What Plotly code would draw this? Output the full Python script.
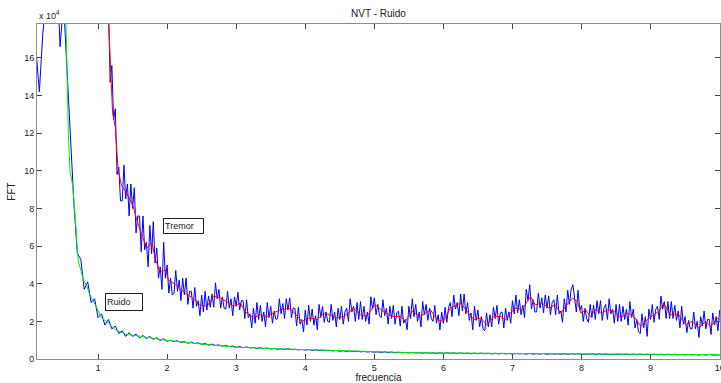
import plotly.graph_objects as go

# ---------------- data (FFT amplitude in units of 1e4) ----------------
TREMOR_F0, TREMOR_STEP = 1.10, 0.025
RUIDO_F0, RUIDO_STEP = 0.10, 0.05

tremor_fft = [
    24.3, 20.3, 19.0, 14.7, 15.6, 12.7, 13.3, 9.8, 10.2, 8.4,
    8.4, 10.3, 8.5, 9.3, 7.6, 9.3, 8.0, 9.1, 6.7, 7.6,
    7.6, 5.7, 7.6, 5.8, 6.2, 4.9, 7.1, 5.6, 7.3, 5.1,
    5.9, 4.3, 4.9, 3.7, 6.2, 4.3, 5.0, 3.5, 4.3, 3.4,
    3.5, 4.7, 3.6, 4.2, 3.1, 4.3, 3.4, 4.3, 2.9, 3.6,
    3.6, 2.7, 3.8, 2.8, 3.1, 2.3, 3.4, 2.5, 3.6, 2.6,
    3.35, 2.75, 3.45, 2.75, 4.05, 3.2, 3.7, 2.7, 3.3, 2.7,
    2.65, 3.6, 2.7, 3.2, 2.3, 3.3, 2.8, 3.55, 2.6, 3.1,
    3.1, 2.15, 3.15, 2.2, 2.4, 1.65, 2.7, 1.9, 3.0, 2.1,
    2.85, 2.0, 2.5, 1.7, 3.0, 2.2, 2.8, 1.9, 2.55, 2.1,
    2.15, 3.2, 2.4, 2.95, 2.15, 3.2, 2.6, 3.25, 2.2, 2.7,
    2.7, 1.75, 2.75, 1.85, 2.1, 1.45, 2.6, 1.8, 2.85, 2.0,
    2.65, 1.8, 2.3, 1.55, 2.9, 2.2, 2.8, 1.95, 2.5, 2.0,
    1.95, 2.9, 2.05, 2.5, 1.7, 2.7, 2.1, 2.8, 1.85, 2.5,
    2.7, 2.0, 3.2, 2.5, 2.8, 2.0, 3.0, 2.1, 3.05, 2.1,
    2.8, 2.0, 2.5, 1.85, 3.3, 2.65, 3.25, 2.35, 2.9, 2.3,
    2.2, 3.15, 2.3, 2.7, 1.85, 2.8, 2.15, 2.85, 1.85, 2.45,
    2.55, 1.75, 2.8, 1.9, 2.1, 1.55, 2.8, 2.15, 3.2, 2.25,
    2.9, 2.0, 2.5, 1.7, 3.05, 2.35, 2.9, 2.05, 2.7, 2.15,
    2.0, 2.85, 1.9, 2.35, 1.55, 2.5, 1.9, 2.75, 1.95, 2.75,
    3.0, 2.25, 3.4, 2.65, 3.0, 2.3, 3.45, 2.55, 3.45, 2.4,
    3.0, 2.05, 2.45, 1.55, 2.8, 2.05, 2.6, 1.7, 2.25, 1.6,
    1.5, 2.45, 1.7, 2.35, 1.7, 2.75, 2.15, 2.85, 1.85, 2.45,
    2.5, 1.65, 2.7, 2.05, 2.5, 1.9, 3.1, 2.4, 3.4, 2.45,
    3.15, 2.35, 2.85, 2.2, 3.7, 3.1, 3.95, 2.65, 3.15, 2.5,
    2.5, 3.5, 2.7, 3.25, 2.45, 3.4, 2.7, 3.35, 2.35, 3.0,
    3.15, 2.35, 3.4, 2.4, 2.55, 1.95, 3.2, 2.5, 3.65, 2.9,
    3.7, 3.95, 3.35, 2.5, 3.65, 2.6, 2.85, 2.0, 2.7, 2.15,
    1.95, 2.9, 2.2, 2.85, 2.1, 3.1, 2.4, 3.1, 2.05, 2.7,
    2.9, 2.1, 3.2, 2.4, 2.65, 1.9, 2.9, 2.0, 2.9, 2.0,
    2.8, 2.1, 2.65, 1.8, 3.05, 2.2, 2.65, 1.65, 2.1, 1.45,
    1.35, 2.4, 1.65, 2.25, 1.2, 2.65, 2.1, 2.9, 1.95, 2.65,
    2.8, 2.1, 3.35, 2.65, 3.05, 2.15, 3.05, 2.15, 3.05, 2.15,
    2.85, 2.05, 2.55, 1.65, 2.8, 1.85, 2.25, 1.4, 2.05, 1.6,
    1.6, 2.5, 1.6, 2.0, 1.15, 2.25, 1.75, 2.55, 1.6, 2.1,
    2.1, 1.3, 2.45, 1.8, 2.25, 1.5, 2.6,
]

tremor_smooth_f = [
    1.08, 1.15, 1.17, 1.19, 1.21, 1.25, 1.27, 1.29, 1.34, 1.40,
    1.46, 1.51, 1.56, 1.64, 1.71, 1.78, 1.83, 1.90, 1.97, 2.02,
    2.12, 2.23, 2.36, 2.48, 2.58, 2.67, 2.77, 2.87, 2.96, 3.06,
    3.13, 3.25, 3.35, 3.44, 3.54, 3.64, 3.78, 3.88, 3.95, 4.07,
    4.17, 4.27, 4.36, 4.46, 4.56, 4.70, 4.80, 4.89, 5.01, 5.13,
    5.26, 5.38, 5.45, 5.55, 5.67, 5.81, 5.91, 6.00, 6.10, 6.25,
    6.34, 6.44, 6.54, 6.63, 6.73, 6.83, 6.90, 6.97, 7.04, 7.14,
    7.26, 7.33, 7.43, 7.53, 7.62, 7.70, 7.77, 7.87, 7.94, 7.99,
    8.06, 8.13, 8.20, 8.30, 8.37, 8.47, 8.57, 8.66, 8.76, 8.86,
    8.95, 9.05, 9.12, 9.19, 9.29, 9.41, 9.51, 9.60, 9.70, 9.80,
    9.87, 9.97, 10.0,
]
tremor_smooth = [
    24.0, 18.5, 16.6, 14.5, 13.1, 12.3, 11.3, 10.1, 9.2, 8.9,
    8.5, 8.1, 7.4, 6.5, 5.9, 6.2, 5.3, 4.6, 4.75, 4.2,
    3.95, 3.6, 3.26, 2.88, 2.8, 3.33, 3.26, 3.0, 2.8, 2.97,
    2.53, 2.18, 2.35, 2.26, 2.44, 2.62, 2.7, 2.26, 2.0, 2.18,
    2.09, 2.44, 2.35, 2.18, 2.26, 2.7, 2.35, 2.26, 2.88, 2.53,
    2.26, 2.26, 2.0, 2.53, 2.26, 2.62, 2.09, 2.0, 2.7, 2.97,
    2.53, 2.09, 2.18, 1.82, 2.26, 2.26, 2.09, 2.44, 2.7, 2.62,
    3.33, 2.88, 2.97, 2.7, 2.88, 2.44, 2.8, 3.24, 3.06, 2.44,
    2.62, 2.26, 2.62, 2.44, 2.62, 2.53, 2.18, 2.44, 2.26, 1.73,
    2.09, 2.35, 2.53, 2.97, 2.35, 2.35, 1.82, 2.0, 1.65, 2.0,
    1.73, 2.18, 2.1,
]

ruido_fft = [
    16.5, 14.2, 17.3, 19.5, 21.0, 22.0, 21.0, 16.6, 19.0, 15.4,
    11.8, 8.3, 5.6, 5.3, 3.7, 4.1, 3.0, 3.2, 2.2, 2.4,
    1.8, 2.1, 1.6, 1.75, 1.35, 1.5, 1.2, 1.4, 1.2, 1.32,
    1.12, 1.25, 1.08, 1.2, 1.04, 1.13, 0.98, 1.08, 0.94, 1.0,
    0.92, 0.97, 0.88, 0.93, 0.84, 0.9, 0.82, 0.86, 0.78, 0.82,
    0.74, 0.79, 0.72, 0.75, 0.68, 0.72, 0.66, 0.69, 0.62, 0.66,
    0.6, 0.64, 0.59, 0.61, 0.56, 0.6, 0.55, 0.58, 0.53, 0.56,
    0.52, 0.55, 0.51, 0.54, 0.5, 0.52, 0.48, 0.51, 0.47, 0.5,
    0.46, 0.49, 0.45, 0.48, 0.44, 0.46, 0.43, 0.45, 0.41, 0.44,
    0.4, 0.43, 0.39, 0.42, 0.38, 0.4, 0.37, 0.39, 0.36, 0.38,
    0.35, 0.38, 0.34, 0.37, 0.33, 0.36, 0.33, 0.35, 0.32, 0.35,
    0.32, 0.34, 0.31, 0.34, 0.31, 0.33, 0.3, 0.33, 0.3, 0.33,
    0.3, 0.32, 0.29, 0.32, 0.29, 0.31, 0.28, 0.31, 0.28, 0.31,
    0.28, 0.3, 0.27, 0.3, 0.27, 0.3, 0.27, 0.29, 0.26, 0.29,
    0.27, 0.29, 0.26, 0.29, 0.26, 0.28, 0.26, 0.29, 0.25, 0.28,
    0.26, 0.28, 0.25, 0.28, 0.25, 0.28, 0.25, 0.28, 0.25, 0.27,
    0.25, 0.27, 0.24, 0.27, 0.24, 0.27, 0.24, 0.26, 0.24, 0.26,
    0.24, 0.26, 0.23, 0.26, 0.23, 0.26, 0.23, 0.25, 0.23, 0.25,
    0.23, 0.25, 0.22, 0.25, 0.22, 0.25, 0.22, 0.24, 0.22, 0.24,
    0.22, 0.24, 0.21, 0.24, 0.21, 0.24, 0.21, 0.23, 0.22,
]

ruido_smooth_f = [
    0.10, 0.30, 0.50, 0.536, 0.57, 0.594, 0.633, 0.667, 0.68, 0.69,
    0.715, 0.74, 0.79, 0.84, 0.88, 0.96, 1.0, 1.05, 1.15, 1.25,
    1.42, 1.51, 1.75, 2.0, 2.48, 2.96, 3.5, 4.0, 4.5, 5.0,
    5.5, 6.0, 7.0, 8.0, 9.0, 10.0,
]
ruido_smooth = [
    20.0, 24.0, 20.0, 17.8, 12.0, 10.0, 9.2, 7.9, 7.0, 6.3,
    5.2, 4.85, 4.2, 3.86, 3.41, 2.88, 2.53, 2.18, 1.91, 1.56,
    1.29, 1.27, 1.13, 0.99, 0.80, 0.64, 0.55, 0.49, 0.43, 0.37,
    0.34, 0.32, 0.28, 0.27, 0.25, 0.23,
]

x_ticks = [1, 2, 3, 4, 5, 6, 7, 8, 9, 10]
y_ticks = [0, 2, 4, 6, 8, 10, 12, 14, 16]

tremor_f = [round(TREMOR_F0 + TREMOR_STEP * i, 4) for i in range(len(tremor_fft))]
ruido_f = [round(RUIDO_F0 + RUIDO_STEP * i, 4) for i in range(len(ruido_fft))]

# ---------------- figure ----------------
FONT = "Liberation Sans, Arial, sans-serif"
fig = go.Figure()
fig.add_trace(go.Scatter(x=tremor_f, y=tremor_fft, mode="lines",
                         line=dict(color="#0000ff", width=1)))
fig.add_trace(go.Scatter(x=tremor_smooth_f, y=tremor_smooth, mode="lines",
                         line=dict(color="#ff0000", width=1)))
fig.add_trace(go.Scatter(x=ruido_f, y=ruido_fft, mode="lines",
                         line=dict(color="#0000ff", width=1)))
fig.add_trace(go.Scatter(x=ruido_smooth_f, y=ruido_smooth, mode="lines",
                         line=dict(color="#00ee00", width=1)))

axis_common = dict(showline=True, linecolor="#8c8c8c", linewidth=1, mirror="ticks",
                   ticks="inside", ticklen=5, tickcolor="#444", showgrid=False,
                   zeroline=False, ticklabeloverflow="allow", automargin=False,
                   tickfont=dict(family=FONT, size=9, color="#222"))

fig.update_xaxes(range=[0.116, 10.005], tickvals=x_ticks,
                 title=dict(text="frecuencia", font=dict(family=FONT, size=10, color="#222"),
                            standoff=2),
                 **axis_common)
fig.update_yaxes(range=[0, 17.8], tickvals=y_ticks,
                 title=dict(text="FFT", font=dict(family=FONT, size=10, color="#222"),
                            standoff=6),
                 **axis_common)

fig.update_layout(
    width=721, height=383,
    margin=dict(l=37, r=1, t=24, b=24),
    paper_bgcolor="white", plot_bgcolor="white",
    showlegend=False,
    title=dict(text="NVT - Ruido", x=0.525, xanchor="center", y=0.975, yanchor="top",
               font=dict(family=FONT, size=10, color="#222")),
    annotations=[
        dict(text="x 10<sup>4</sup>", xref="paper", yref="paper", x=0, y=1.0,
             xanchor="left", yanchor="bottom", showarrow=False, yshift=1,
             font=dict(family=FONT, size=9, color="#222")),
        dict(text="Tremor", xref="x", yref="y", x=1.94, y=7.08, xanchor="left",
             yanchor="middle", showarrow=False, align="left", width=37, height=12,
             bordercolor="#222", borderwidth=1, borderpad=1, bgcolor="white",
             font=dict(family=FONT, size=9, color="#222")),
        dict(text="Ruido", xref="x", yref="y", x=1.10, y=3.04, xanchor="left",
             yanchor="middle", showarrow=False, align="left", width=34, height=14,
             bordercolor="#222", borderwidth=1, borderpad=1, bgcolor="white",
             font=dict(family=FONT, size=9, color="#222")),
    ],
)

fig.write_html("out.html")
